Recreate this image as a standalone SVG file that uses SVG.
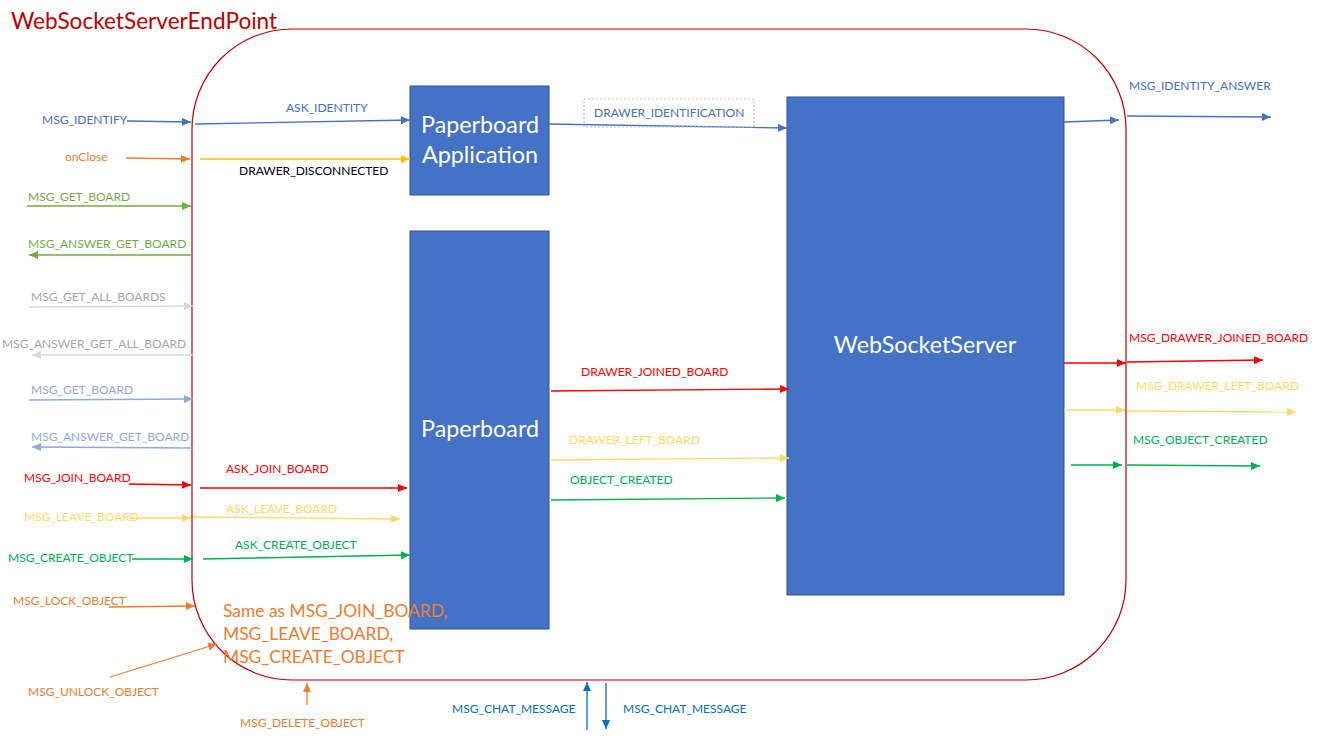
<svg xmlns="http://www.w3.org/2000/svg" width="1320" height="739" viewBox="0 0 1320 739">
<style>
text{font-family:Lato,"Noto Sans","Liberation Sans",sans-serif;font-size:12px}
.box{fill:#4472c4;stroke:#2f528f;stroke-width:1}
.bt{fill:#fff;font-size:23.3px;text-anchor:middle}
.c{fill:none;stroke-width:1.3}
.blue{stroke:#4472c4}.tblue{fill:#4472c4}
.org{stroke:#ed7d31}.torg{fill:#ed7d31}
.gold{stroke:#ffc000}
.grn{stroke:#70ad47}.tgrn{fill:#70ad47}
.gry{stroke:#d9d9d9}.tgry{fill:#a6a6a6}
.lbl{stroke:#8faadc}.tlbl{fill:#8faadc}
.red{stroke:#ff0000}.tred{fill:#ff0000}
.ylw{stroke:#ffd966}.tylw{fill:#ffd966}
.g2{stroke:#00b050}.tg2{fill:#00b050}
.chat{stroke:#0070c0}.tchat{fill:#0070c0}
</style>
<defs>
<marker id="aBlue" markerUnits="userSpaceOnUse" markerWidth="10" markerHeight="9" refX="9" refY="4" orient="auto"><path d="M0,0 L9,4 L0,8 z" fill="#4472c4"/></marker>
<marker id="aOrg" markerUnits="userSpaceOnUse" markerWidth="10" markerHeight="9" refX="9" refY="4" orient="auto"><path d="M0,0 L9,4 L0,8 z" fill="#ed7d31"/></marker>
<marker id="aGold" markerUnits="userSpaceOnUse" markerWidth="10" markerHeight="9" refX="9" refY="4" orient="auto"><path d="M0,0 L9,4 L0,8 z" fill="#ffc000"/></marker>
<marker id="aGrn" markerUnits="userSpaceOnUse" markerWidth="10" markerHeight="9" refX="9" refY="4" orient="auto"><path d="M0,0 L9,4 L0,8 z" fill="#70ad47"/></marker>
<marker id="aGry" markerUnits="userSpaceOnUse" markerWidth="10" markerHeight="9" refX="9" refY="4" orient="auto"><path d="M0,0 L9,4 L0,8 z" fill="#d9d9d9"/></marker>
<marker id="aLbl" markerUnits="userSpaceOnUse" markerWidth="10" markerHeight="9" refX="9" refY="4" orient="auto"><path d="M0,0 L9,4 L0,8 z" fill="#8faadc"/></marker>
<marker id="aRed" markerUnits="userSpaceOnUse" markerWidth="10" markerHeight="9" refX="9" refY="4" orient="auto"><path d="M0,0 L9,4 L0,8 z" fill="#ff0000"/></marker>
<marker id="aYlw" markerUnits="userSpaceOnUse" markerWidth="10" markerHeight="9" refX="9" refY="4" orient="auto"><path d="M0,0 L9,4 L0,8 z" fill="#ffd966"/></marker>
<marker id="aG2" markerUnits="userSpaceOnUse" markerWidth="10" markerHeight="9" refX="9" refY="4" orient="auto"><path d="M0,0 L9,4 L0,8 z" fill="#00b050"/></marker>
<marker id="aChat" markerUnits="userSpaceOnUse" markerWidth="10" markerHeight="9" refX="9" refY="4" orient="auto"><path d="M0,0 L9,4 L0,8 z" fill="#0070c0"/></marker>
</defs>
<rect width="1320" height="739" fill="#fff"/>

<g id="endpoint">
<rect x="192" y="29" width="934" height="651" rx="100" ry="100" fill="none" stroke="#c00000" stroke-width="1.2"/>
<text x="11" y="29" style="font-size:22.6px" fill="#c00000">WebSocketServerEndPoint</text>
</g>

<g id="paperboard-application">
<rect class="box" x="410" y="86" width="139" height="109"/>
<text class="bt" x="480" y="133">Paperboard</text>
<text class="bt" x="480" y="163">Application</text>
</g>

<g id="paperboard">
<rect class="box" x="410" y="231" width="139" height="398"/>
<text class="bt" x="480" y="437">Paperboard</text>
</g>

<g id="websocketserver">
<rect class="box" x="787" y="97" width="277" height="498"/>
<text class="bt" x="925" y="353">WebSocketServer</text>
</g>

<g id="connectors">
<path class="c blue" d="M127,121 L191,122" marker-end="url(#aBlue)"/>
<path class="c blue" d="M195,124 L410,120" marker-end="url(#aBlue)"/>
<path class="c org" d="M126,158 L190,159" marker-end="url(#aOrg)"/>
<path class="c gold" d="M200,159 L410,159" marker-end="url(#aGold)"/>
<path class="c grn" d="M27,206 L191,206" marker-end="url(#aGrn)"/>
<path class="c grn" d="M191,255 L29,255" marker-end="url(#aGrn)"/>
<path class="c gry" d="M29,307 L193,306" marker-end="url(#aGry)"/>
<path class="c gry" d="M193,355 L32,355" marker-end="url(#aGry)"/>
<path class="c lbl" d="M29,400 L193,399" marker-end="url(#aLbl)"/>
<path class="c lbl" d="M193,448 L32,447" marker-end="url(#aLbl)"/>
<path class="c red" d="M129,484 L191,485" marker-end="url(#aRed)"/>
<path class="c red" d="M200,488 L407,488" marker-end="url(#aRed)"/>
<path class="c ylw" d="M130,518 L191,518" marker-end="url(#aYlw)"/>
<path class="c ylw" d="M193,517 L400,519" marker-end="url(#aYlw)"/>
<path class="c g2" d="M132,559 L193,559" marker-end="url(#aG2)"/>
<path class="c g2" d="M203,559 L410,555" marker-end="url(#aG2)"/>
<path class="c org" d="M109,607 L195,606" marker-end="url(#aOrg)"/>
<path class="c org" d="M110,677 L217,644" marker-end="url(#aOrg)"/>
<path class="c org" d="M307,705 L307,683" marker-end="url(#aOrg)"/>
<path class="c chat" d="M587,730 L587,682" marker-end="url(#aChat)"/>
<path class="c chat" d="M606,683 L606,729" marker-end="url(#aChat)"/>
<path class="c blue" d="M549,124 L787,128" marker-end="url(#aBlue)"/>
<path class="c red" d="M551,391 L789,389" marker-end="url(#aRed)"/>
<path class="c ylw" d="M551,460 L789,458" marker-end="url(#aYlw)"/>
<path class="c g2" d="M551,500 L785,498" marker-end="url(#aG2)"/>
<path class="c blue" d="M1064,122 L1119,120" marker-end="url(#aBlue)"/>
<path class="c blue" d="M1127,116 L1271,117" marker-end="url(#aBlue)"/>
<path class="c red" d="M1064,363 L1126,363" marker-end="url(#aRed)"/>
<path class="c red" d="M1127,362 L1263,360" marker-end="url(#aRed)"/>
<path class="c ylw" d="M1064,410 L1125,410" marker-end="url(#aYlw)"/>
<path class="c ylw" d="M1127,411 L1296,412" marker-end="url(#aYlw)"/>
<path class="c g2" d="M1071,465 L1122,465" marker-end="url(#aG2)"/>
<path class="c g2" d="M1127,465 L1260,466" marker-end="url(#aG2)"/>
<rect x="584" y="99" width="170" height="28" fill="none" stroke="#bfbfbf" stroke-width="1.2" stroke-dasharray="2,2"/>
</g>

<g id="labels">
<text class="tblue" x="42" y="124">MSG_IDENTIFY</text>
<text class="tblue" x="286" y="112">ASK_IDENTITY</text>
<text class="torg" x="65" y="161">onClose</text>
<text fill="#000" x="239" y="175">DRAWER_DISCONNECTED</text>
<text class="tgrn" x="28" y="201">MSG_GET_BOARD</text>
<text class="tgrn" x="28" y="248">MSG_ANSWER_GET_BOARD</text>
<text class="tgry" x="31" y="301">MSG_GET_ALL_BOARDS</text>
<text class="tgry" x="2" y="348">MSG_ANSWER_GET_ALL_BOARD</text>
<text class="tlbl" x="31" y="394">MSG_GET_BOARD</text>
<text class="tlbl" x="31" y="441">MSG_ANSWER_GET_BOARD</text>
<text class="tred" x="24" y="482">MSG_JOIN_BOARD</text>
<text class="tred" x="226" y="473">ASK_JOIN_BOARD</text>
<text class="tylw" x="24" y="521">MSG_LEAVE_BOARD</text>
<text class="tylw" x="226" y="513">ASK_LEAVE_BOARD</text>
<text class="tg2" x="8" y="562">MSG_CREATE_OBJECT</text>
<text class="tg2" x="235" y="549">ASK_CREATE_OBJECT</text>
<text class="torg" x="13" y="605">MSG_LOCK_OBJECT</text>
<text class="torg" x="28" y="696">MSG_UNLOCK_OBJECT</text>
<text class="torg" x="240" y="727">MSG_DELETE_OBJECT</text>
<text class="torg" style="font-size:17.4px" x="223" y="617">Same as MSG_JOIN_BOARD,</text>
<text class="torg" style="font-size:17.4px" x="223" y="640">MSG_LEAVE_BOARD,</text>
<text class="torg" style="font-size:17.4px" x="223" y="663">MSG_CREATE_OBJECT</text>
<text class="tchat" x="452" y="713">MSG_CHAT_MESSAGE</text>
<text class="tchat" x="623" y="713">MSG_CHAT_MESSAGE</text>
<text class="tblue" x="594" y="117">DRAWER_IDENTIFICATION</text>
<text class="tred" x="581" y="376">DRAWER_JOINED_BOARD</text>
<text class="tylw" x="569" y="444">DRAWER_LEFT_BOARD</text>
<text class="tg2" x="570" y="484">OBJECT_CREATED</text>
<text class="tblue" x="1129" y="90">MSG_IDENTITY_ANSWER</text>
<text class="tred" x="1129" y="342">MSG_DRAWER_JOINED_BOARD</text>
<text class="tylw" x="1136" y="390">MSG_DRAWER_LEFT_BOARD</text>
<text class="tg2" x="1133" y="444">MSG_OBJECT_CREATED</text>
</g>
</svg>
